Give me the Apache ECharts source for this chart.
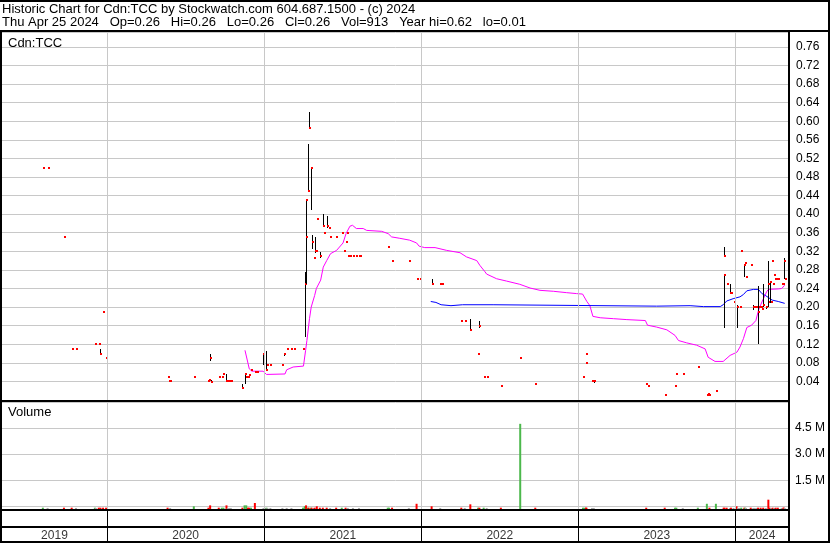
<!DOCTYPE html>
<html><head><meta charset="utf-8">
<script src="https://cdn.jsdelivr.net/npm/echarts@6/dist/echarts.min.js"></script>
<style>html,body{margin:0;padding:0;background:#fff}#c{width:830px;height:543px}</style>
</head><body><div id="c"></div>
<script>
// ---------- texts ----------
const titleLine1 = 'Historic Chart for Cdn:TCC by Stockwatch.com 604.687.1500 - (c) 2024';
const titleLine2 = 'Thu Apr 25 2024   Op=0.26   Hi=0.26   Lo=0.26   Cl=0.26   Vol=913   Year hi=0.62   lo=0.01';
const symbolLabel = 'Cdn:TCC';
const volumeLabel = 'Volume';
const years = ['2019', '2020', '2021', '2022', '2023', '2024'];
const axisStart = '2019-05-02';
const axisEnd = '2024-05-05';
const priceMax = 0.792, priceStep = 0.04;
const volMax = 6000000, volStep = 1500000;

// ---------- daily price bars (high / low / close) ----------
const pDates = ['2019-08-05','2019-08-16','2019-09-23','2019-10-11','2019-10-21','2019-12-04','2019-12-13','2019-12-17','2019-12-23','2019-12-30',
'2020-05-21','2020-05-25','2020-05-27','2020-07-21','2020-08-24','2020-08-26','2020-08-28','2020-08-31','2020-09-17','2020-09-24','2020-09-28','2020-10-05','2020-10-08','2020-10-12','2020-10-15','2020-11-11','2020-11-16','2020-11-20','2020-11-24','2020-11-27','2020-12-01','2020-12-10','2020-12-14','2020-12-30',
'2021-01-06','2021-01-08','2021-01-15','2021-02-12','2021-02-16','2021-02-22','2021-03-05','2021-03-10','2021-04-01','2021-04-05','2021-04-07','2021-04-08','2021-04-12','2021-04-14','2021-04-19','2021-04-21','2021-04-26','2021-04-28','2021-04-30','2021-05-03','2021-05-10','2021-05-11','2021-05-17','2021-05-20','2021-05-26','2021-06-01','2021-06-03','2021-06-17','2021-06-30','2021-07-05','2021-07-09','2021-07-12','2021-07-14','2021-07-19','2021-07-26','2021-08-02','2021-08-09','2021-08-11','2021-10-15','2021-10-25','2021-12-03','2021-12-23','2021-12-28',
'2022-01-25','2022-02-14','2022-02-18','2022-04-04','2022-04-12','2022-04-25','2022-05-13','2022-05-16','2022-05-26','2022-06-02','2022-07-05','2022-08-19','2022-09-23',
'2023-01-12','2023-01-19','2023-01-20','2023-02-02','2023-02-06','2023-06-08','2023-06-12','2023-07-21','2023-08-14','2023-08-17','2023-09-01','2023-10-06','2023-10-27','2023-10-30','2023-11-02','2023-11-17','2023-12-05','2023-12-07','2023-12-12','2023-12-20','2023-12-22','2023-12-28',
'2024-01-04','2024-01-11','2024-01-15','2024-01-22','2024-01-24','2024-01-26','2024-02-06','2024-02-12','2024-02-15','2024-02-19','2024-02-21','2024-02-23','2024-02-26','2024-02-29','2024-03-04','2024-03-06','2024-03-12','2024-03-18','2024-03-19','2024-03-21','2024-03-25','2024-03-26','2024-03-28','2024-04-01','2024-04-02','2024-04-04','2024-04-09','2024-04-18','2024-04-22','2024-04-23','2024-04-25'];
const pHigh = [0.50,0.50,0.35,0.11,0.11,0.12,0.12,0.11,0.19,0.09,
0.05,0.04,0.04,0.05,0.04,0.042,0.10,0.044,0.05,0.05,0.055,0.055,0.04,0.04,0.04,0.035,0.058,0.05,0.05,0.054,0.065,0.06,0.06,0.10,
0.105,0.075,0.075,0.075,0.10,0.11,0.11,0.11,0.11,0.275,0.43,0.42,0.55,0.62,0.50,0.355,0.305,0.35,0.32,0.39,0.318,0.31,0.40,0.36,0.395,0.37,0.35,0.35,0.36,0.32,0.34,0.36,0.31,0.31,0.31,0.31,0.31,0.31,0.33,0.30,0.30,0.26,0.26,
0.26,0.25,0.25,0.17,0.17,0.175,0.10,0.17,0.05,0.05,0.03,0.09,0.035,
0.05,0.08,0.10,0.04,0.042,0.035,0.03,0.01,0.03,0.055,0.055,0.07,0.01,0.012,0.01,0.02,0.27,0.33,0.25,0.25,0.23,0.21,
0.205,0.20,0.32,0.29,0.295,0.265,0.29,0.205,0.20,0.20,0.20,0.245,0.20,0.20,0.195,0.25,0.20,0.30,0.21,0.255,0.21,0.30,0.25,0.27,0.26,0.26,0.26,0.25,0.25,0.305,0.26];
const pLow = [0.50,0.50,0.35,0.11,0.11,0.12,0.12,0.10,0.19,0.09,
0.05,0.04,0.04,0.05,0.04,0.042,0.085,0.038,0.05,0.05,0.055,0.04,0.04,0.04,0.04,0.025,0.035,0.05,0.05,0.054,0.065,0.06,0.06,0.077,
0.065,0.075,0.075,0.075,0.095,0.11,0.11,0.11,0.11,0.135,0.25,0.31,0.45,0.585,0.41,0.325,0.305,0.315,0.32,0.39,0.305,0.31,0.375,0.36,0.37,0.37,0.35,0.35,0.36,0.32,0.34,0.36,0.31,0.31,0.31,0.31,0.31,0.31,0.33,0.30,0.30,0.26,0.26,
0.25,0.25,0.25,0.17,0.17,0.15,0.10,0.155,0.05,0.05,0.03,0.09,0.035,
0.05,0.08,0.10,0.04,0.035,0.035,0.03,0.01,0.03,0.055,0.055,0.07,0.01,0.012,0.01,0.02,0.155,0.31,0.25,0.23,0.23,0.21,
0.155,0.20,0.32,0.265,0.295,0.265,0.29,0.195,0.20,0.20,0.20,0.12,0.20,0.20,0.195,0.20,0.195,0.20,0.21,0.21,0.21,0.30,0.25,0.27,0.26,0.26,0.26,0.25,0.25,0.26,0.26];
const pClose = [0.50,0.50,0.35,0.11,0.11,0.12,0.12,0.10,0.19,0.09,
0.05,0.04,0.04,0.05,0.04,0.042,0.09,0.038,0.05,0.05,0.055,0.04,0.04,0.04,0.04,0.025,0.055,0.05,0.05,0.054,0.065,0.06,0.06,0.10,
0.065,0.075,0.075,0.075,0.10,0.11,0.11,0.11,0.11,0.25,0.43,0.35,0.45,0.585,0.50,0.34,0.305,0.32,0.32,0.39,0.31,0.31,0.375,0.36,0.375,0.37,0.35,0.35,0.36,0.32,0.34,0.36,0.31,0.31,0.31,0.31,0.31,0.31,0.33,0.30,0.30,0.26,0.26,
0.25,0.25,0.25,0.17,0.17,0.15,0.10,0.16,0.05,0.05,0.03,0.09,0.035,
0.05,0.08,0.10,0.04,0.04,0.035,0.03,0.01,0.03,0.055,0.055,0.07,0.01,0.012,0.01,0.02,0.27,0.31,0.25,0.23,0.23,0.21,
0.20,0.20,0.32,0.29,0.295,0.265,0.29,0.20,0.20,0.20,0.20,0.19,0.20,0.20,0.195,0.205,0.20,0.25,0.21,0.255,0.21,0.30,0.25,0.27,0.26,0.26,0.26,0.25,0.25,0.30,0.26];

// ---------- moving averages ----------
const maShortDates = ['2020-11-17','2020-11-27','2020-12-03','2020-12-29','2021-01-06','2021-02-18','2021-02-22','2021-03-09','2021-04-02','2021-04-07','2021-04-10','2021-04-16','2021-04-20','2021-04-28','2021-05-02','2021-05-12','2021-05-18','2021-05-26','2021-06-04','2021-06-18','2021-07-03','2021-07-10','2021-07-19','2021-07-25','2021-08-03','2021-08-19','2021-08-27','2021-10-01','2021-10-16','2021-10-24','2021-11-12','2021-12-05','2021-12-21','2021-12-27',
'2022-01-09','2022-02-02','2022-03-01','2022-04-01','2022-04-16','2022-05-10','2022-05-17','2022-05-29','2022-06-02','2022-06-25','2022-07-18','2022-08-18','2022-09-11','2022-10-04','2022-11-04','2022-12-05','2022-12-28',
'2023-01-11','2023-01-21','2023-01-28','2023-02-04','2023-02-21','2023-03-24','2023-04-24','2023-06-06','2023-06-11','2023-07-02','2023-07-26','2023-08-14','2023-08-22','2023-09-10','2023-10-03','2023-10-23','2023-10-30','2023-11-15','2023-12-04','2023-12-20',
'2024-01-05','2024-01-12','2024-01-20','2024-01-28','2024-02-08','2024-02-18','2024-02-24','2024-03-03','2024-03-14','2024-03-18','2024-04-10','2024-04-18','2024-04-25'];
const maShortValues = [0.107,0.067,0.062,0.062,0.055,0.056,0.065,0.071,0.073,0.107,0.128,0.175,0.20,0.225,0.24,0.258,0.286,0.30,0.315,0.322,0.338,0.358,0.374,0.376,0.369,0.369,0.365,0.363,0.358,0.351,0.348,0.344,0.338,0.331,
0.328,0.328,0.322,0.317,0.308,0.30,0.29,0.276,0.271,0.261,0.256,0.249,0.241,0.236,0.234,0.231,0.229,
0.228,0.212,0.203,0.18,0.177,0.175,0.173,0.171,0.161,0.157,0.151,0.139,0.128,0.123,0.118,0.11,0.092,0.083,0.083,0.096,
0.103,0.114,0.132,0.156,0.161,0.171,0.193,0.211,0.233,0.238,0.239,0.24,0.247];
const maLongDates = ['2022-01-23','2022-02-04','2022-02-16','2022-03-11','2022-04-07','2022-06-17','2022-06-21','2023-07-02','2023-09-18','2023-10-19','2023-11-27','2023-12-04','2023-12-12','2023-12-27','2024-01-12','2024-01-20','2024-01-28','2024-02-12','2024-02-24','2024-03-03','2024-03-11','2024-03-27','2024-04-10','2024-04-25'];
const maLongValues = [0.212,0.21,0.205,0.203,0.205,0.205,0.203,0.202,0.203,0.201,0.201,0.205,0.213,0.218,0.222,0.227,0.235,0.238,0.238,0.229,0.225,0.215,0.212,0.208];

// ---------- volume (u = up, d = down, n = unchanged) ----------
const vDates = ['2019-08-05','2019-08-16','2019-09-23','2019-10-11','2019-10-21','2019-12-04','2019-12-06','2019-12-13','2019-12-17','2019-12-23','2019-12-30',
'2020-05-21','2020-05-27','2020-07-21','2020-08-24','2020-08-28','2020-09-17','2020-09-24','2020-09-28','2020-10-05','2020-10-08','2020-10-12','2020-10-15','2020-11-11','2020-11-16','2020-11-20','2020-11-24','2020-11-27','2020-12-01','2020-12-10','2020-12-30',
'2021-01-04','2021-01-06','2021-01-08','2021-01-15','2021-02-12','2021-02-22','2021-03-05','2021-04-01','2021-04-05','2021-04-07','2021-04-08','2021-04-12','2021-04-14','2021-04-19','2021-04-21','2021-04-26','2021-04-28','2021-05-03','2021-05-10','2021-05-17','2021-05-26','2021-06-03','2021-06-17','2021-06-30','2021-07-09','2021-07-14','2021-07-26','2021-08-09','2021-10-15','2021-10-18','2021-10-25','2021-12-03','2021-12-21',
'2022-01-25','2022-02-14','2022-04-04','2022-04-12','2022-04-25','2022-05-13','2022-05-16','2022-05-26','2022-06-02','2022-07-05','2022-08-19','2022-09-23',
'2023-01-12','2023-01-16','2023-01-19','2023-01-20','2023-02-02','2023-02-06','2023-06-08','2023-07-21','2023-08-14','2023-08-17','2023-09-01','2023-10-06','2023-10-27','2023-11-02','2023-11-17','2023-12-05','2023-12-07','2023-12-12','2023-12-20','2023-12-22','2023-12-28',
'2024-01-04','2024-01-08','2024-01-11','2024-01-15','2024-01-22','2024-01-24','2024-01-26','2024-02-06','2024-02-12','2024-02-15','2024-02-19','2024-02-23','2024-02-29','2024-03-06','2024-03-12','2024-03-18','2024-03-21','2024-03-25','2024-03-28','2024-04-01','2024-04-04','2024-04-09','2024-04-18','2024-04-22','2024-04-23','2024-04-25'];
const vValues = [75000,60000,75000,75000,60000,75000,60000,75000,75000,75000,75000,
75000,60000,155000,75000,210000,75000,75000,75000,210000,60000,60000,60000,75000,210000,210000,75000,75000,75000,345000,60000,
60000,75000,60000,60000,60000,60000,60000,75000,155000,75000,210000,75000,75000,75000,75000,60000,75000,155000,75000,75000,75000,60000,75000,75000,75000,60000,60000,60000,75000,75000,75000,60000,300000,
155000,60000,75000,60000,270000,75000,75000,75000,60000,75000,4900000,75000,
75000,75000,75000,75000,60000,60000,75000,75000,75000,75000,60000,75000,300000,75000,300000,75000,75000,75000,60000,75000,60000,
155000,60000,60000,75000,75000,75000,60000,75000,60000,60000,60000,75000,75000,75000,60000,536000,75000,60000,75000,60000,75000,75000,60000,75000,75000,913];
const vDir = ['u','n','d','d','n','u','n','d','d','d','d',
'd','n','u','d','d','d','u','u','d','n','n','n','d','u','u','d','d','u','d','n',
'n','u','n','n','n','n','n','u','u','u','d','u','d','u','d','n','d','d','d','d','d','n','d','u','d','n','n','n','u','u','d','n','d',
'd','n','d','n','d','u','d','u','n','d','u','d',
'u','u','d','d','n','n','d','d','u','u','n','u','u','d','u','d','d','d','n','d','n',
'd','n','n','u','d','u','n','d','n','n','n','d','d','d','n','d','d','n','d','n','d','d','n','d','d','n'];

// ---------- build ----------
const FONT = '"Liberation Sans", Arial, sans-serif';
const ts = s => Date.parse(s + 'T00:00:00Z');
const X0 = ts(axisStart), X1 = ts(axisEnd);
const yearStarts = years.slice(1).map(y => ts(y + '-01-01'));
const yearMids = years.map(y => {
  const a = Math.max(X0, ts(y + '-01-01'));
  const b = Math.min(X1, ts((+y + 1) + '-01-01'));
  return (a + b) / 2;
});
const dirColor = { u: '#4cb84c', d: '#ff0000', n: '#a8a8a8' };

const gridL = 2, gridR = 41;
const xAx = i => ({ type: 'value', gridIndex: i, min: X0, max: X1, show: false });
const yearLines = (color) => ({
  silent: true, symbol: ['none', 'none'], label: { show: false }, animation: false,
  lineStyle: { color: color, width: 1, type: 'solid' },
  emphasis: { disabled: true },
  data: yearStarts.map(t => ({ xAxis: t }))
});

const chart = echarts.init(document.getElementById('c'), null, { renderer: 'canvas' });
chart.setOption({
  animation: false,
  backgroundColor: '#ffffff',
  title: [
    { text: titleLine1, left: 2, top: 3, padding: 0, textStyle: { fontSize: 13, fontWeight: 'normal', color: '#000', fontFamily: FONT } },
    { text: titleLine2, left: 2, top: 16, padding: 0, textStyle: { fontSize: 13, fontWeight: 'normal', color: '#000', fontFamily: FONT } }
  ],
  grid: [
    { left: gridL, right: gridR, top: 32, height: 368 },
    { left: gridL, right: gridR, top: 402, height: 104.3 },
    { left: gridL, right: gridR, top: 402, height: 107 },
    { left: gridL, right: gridR, top: 510, height: 32 }
  ],
  xAxis: [xAx(0), xAx(1), xAx(2), xAx(3)],
  yAxis: [
    { type: 'value', gridIndex: 0, position: 'right', min: 0, max: priceMax, interval: priceStep,
      axisLine: { show: false }, axisTick: { show: false },
      splitLine: { show: true, lineStyle: { color: '#c8c8c8', width: 1 } },
      axisLabel: { margin: 7, color: '#000', fontSize: 12, fontFamily: FONT,
        formatter: v => (v <= 0 || v > priceMax - 0.01) ? '' : v.toFixed(2) } },
    { type: 'value', gridIndex: 1, position: 'right', min: 0, max: volMax, interval: volStep,
      axisLine: { show: false }, axisTick: { show: false },
      splitLine: { show: true, lineStyle: { color: '#c8c8c8', width: 1 } },
      axisLabel: { margin: 6, color: '#000', fontSize: 12, fontFamily: FONT,
        formatter: v => (v <= 0 || v >= volMax) ? '' : (v / 1e6).toFixed(1) + ' M' } },
    { type: 'value', gridIndex: 2, min: 0, max: volMax * 107 / 104.3, show: false },
    { type: 'value', gridIndex: 3, min: 0, max: 2, show: false }
  ],
  series: [
    { type: 'line', name: 'ma-short', xAxisIndex: 0, yAxisIndex: 0, z: 3,
      data: maShortDates.map((d, i) => [ts(d), maShortValues[i]]),
      showSymbol: false, symbol: 'none', lineStyle: { color: '#ff00ff', width: 1 },
      markLine: yearLines('#c8c8c8') },
    { type: 'line', name: 'ma-long', xAxisIndex: 0, yAxisIndex: 0, z: 3,
      data: maLongDates.map((d, i) => [ts(d), maLongValues[i]]),
      showSymbol: false, symbol: 'none', lineStyle: { color: '#0000ff', width: 1 } },
    { type: 'custom', name: 'price', xAxisIndex: 0, yAxisIndex: 0, z: 4,
      data: pDates.map((d, i) => [ts(d), pHigh[i], pLow[i], pClose[i]]),
      encode: { x: 0, y: [1, 2, 3] },
      renderItem: function (params, api) {
        const t = api.value(0);
        const hi = api.coord([t, api.value(1)]);
        const lo = api.coord([t, api.value(2)]);
        const cl = api.coord([t, api.value(3)]);
        const x = Math.round(hi[0]);
        const kids = [];
        if (lo[1] - hi[1] >= 1) {
          kids.push({ type: 'rect', shape: { x: x, y: Math.round(hi[1]), width: 1, height: Math.round(lo[1] - hi[1]) }, style: { fill: '#000' } });
        }
        kids.push({ type: 'rect', shape: { x: x, y: Math.round(cl[1]) - 1, width: 2, height: 2 }, style: { fill: '#ff0000' } });
        return { type: 'group', children: kids };
      } },
    { type: 'bar', name: 'volume', xAxisIndex: 2, yAxisIndex: 2, barWidth: 2, barMinHeight: 1,
      data: vDates.map((d, i) => ({ value: [ts(d), vValues[i]], itemStyle: { color: dirColor[vDir[i]] } })),
      markLine: yearLines('#c8c8c8') },
    { type: 'scatter', name: 'years', xAxisIndex: 3, yAxisIndex: 3, symbolSize: 0, silent: true,
      data: years.map((y, i) => ({ value: [yearMids[i], 0.4], name: y })),
      label: { show: true, position: 'inside', formatter: p => p.name, color: '#000', fontSize: 12, fontFamily: FONT },
      markLine: yearLines('#000000') }
  ],
  graphic: [
    { type: 'text', left: 8, top: 37, z: 100, style: { text: symbolLabel, font: '13px ' + FONT, fill: '#000' } },
    { type: 'text', left: 8, top: 406, z: 100, style: { text: volumeLabel, font: '13px ' + FONT, fill: '#000' } },
    { type: 'line', z: 100, shape: { x1: 0, y1: 1, x2: 830, y2: 1 }, style: { stroke: '#000', lineWidth: 2 } },
    { type: 'line', z: 100, shape: { x1: 829, y1: 0, x2: 829, y2: 543 }, style: { stroke: '#000', lineWidth: 2 } },
    { type: 'line', z: 100, shape: { x1: 0, y1: 542, x2: 830, y2: 542 }, style: { stroke: '#000', lineWidth: 2 } },
    { type: 'line', z: 100, shape: { x1: 1, y1: 30, x2: 1, y2: 543 }, style: { stroke: '#000', lineWidth: 2 } },
    { type: 'line', z: 100, shape: { x1: 0, y1: 31, x2: 830, y2: 31 }, style: { stroke: '#000', lineWidth: 2 } },
    { type: 'line', z: 100, shape: { x1: 789, y1: 31, x2: 789, y2: 543 }, style: { stroke: '#000', lineWidth: 2 } },
    { type: 'line', z: 100, shape: { x1: 0, y1: 401, x2: 789, y2: 401 }, style: { stroke: '#000', lineWidth: 2 } },
    { type: 'line', z: 100, shape: { x1: 0, y1: 510, x2: 789, y2: 510 }, style: { stroke: '#000', lineWidth: 2 } },
    { type: 'line', z: 100, shape: { x1: 0, y1: 527, x2: 789, y2: 527 }, style: { stroke: '#000', lineWidth: 2 } }
  ]
});
</script>
</body></html>
